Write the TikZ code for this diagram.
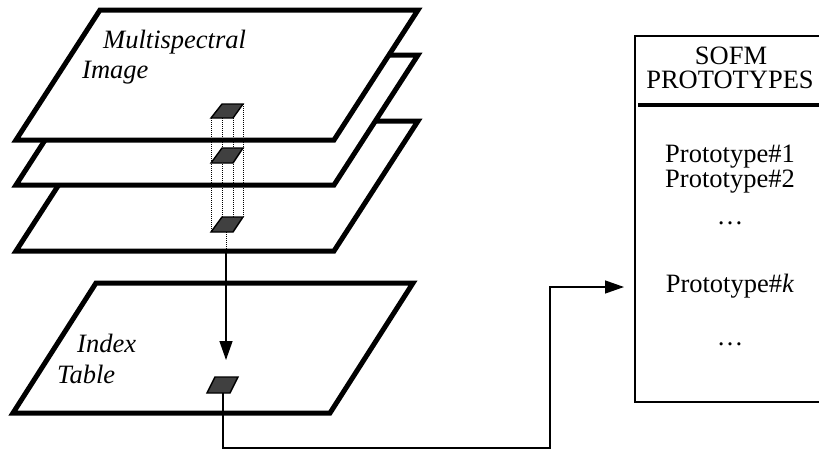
\documentclass[tikz,border=0pt]{standalone}
\usepackage{fontspec}
\setmainfont{Liberation Serif}
\usetikzlibrary{arrows.meta}
\begin{document}
\begin{tikzpicture}[x=1pt,y=-1pt,
  plane/.style={draw=black,fill=white,line width=5pt},
  cell/.style={draw=black,fill=black!75,line width=1.4pt},
  guide/.style={line width=0.8pt,dash pattern=on 1pt off 1pt},
  conn/.style={line width=1.3pt},
  bigtip/.style={-{Triangle[length=19pt,width=13pt]}},
  lbl/.style={font=\fontsize{26.5}{30}\selectfont\itshape,inner sep=0pt},
  boxtxt/.style={font=\fontsize{26.5}{30}\selectfont,inner sep=0pt}]
\clip (0,0) rectangle (819,450);
\useasboundingbox (0,0) rectangle (819,450);
% image planes (back to front)
\draw[plane] (100,121) -- (418,121) -- (334,251) -- (16,251) -- cycle;
\draw[plane] (100,55) -- (418,55) -- (334,185) -- (16,185) -- cycle;
\draw[plane] (100,10) -- (418,10) -- (334,140) -- (16,140) -- cycle;
\node[lbl,anchor=base west] (ms) at (103,48) {Multispectral};
\node[lbl,anchor=base west] (img) at (82,78) {Image};
% index table plane
\draw[plane] (96,283) -- (413,283) -- (330,413) -- (13,413) -- cycle;
\node[lbl,anchor=base west] (idx) at (77,352) {Index};
\node[lbl,anchor=base west] (tab) at (57,383) {Table};
% dotted pixel column
\draw[guide] (211,118) -- (211,232);
\draw[guide] (222,104) -- (222,217);
\draw[guide] (233,118) -- (233,232);
\draw[guide] (243,104) -- (243,217);
% pixel cells
\draw[cell] (222,104) -- (243,104) -- (233,118) -- (211,118) -- cycle;
\draw[cell] (222,148) -- (243,148) -- (233,163) -- (211,163) -- cycle;
\draw[cell] (222,217) -- (243,217) -- (233,232) -- (211,232) -- cycle;
\draw[cell] (215,377) -- (238,377) -- (230,393) -- (207,393) -- cycle;
\coordinate (sq3) at (226,232);
\coordinate (mid) at (226,251);
\coordinate (idxsq) at (226,377);
\coordinate (idxbot) at (223,393);
% SOFM box
\node[draw=black,line width=2pt,minimum width=192pt,minimum height=366pt,anchor=north west,inner sep=0pt] (box) at (634,35) {};
\draw[line width=3.5pt] (638,105) -- (828,105);
\node[boxtxt,anchor=base] (t1) at (731,64) {SOFM};
\node[boxtxt,anchor=base] (t2) at (730,88) {PROTOTYPES};
\node[boxtxt,anchor=base] (p1) at (730,162) {Prototype\#1};
\node[boxtxt,anchor=base] (p2) at (730,187) {Prototype\#2};
\node[boxtxt,anchor=base] (d1) at (730,224) {…};
\node[boxtxt,anchor=base] (pk) at (730,292) {Prototype\#\textit{k}};
\node[boxtxt,anchor=base] (d2) at (730,345) {…};
% connectors
\draw[guide] (sq3) -- (mid);
\draw[conn,bigtip,shorten >=17pt] (mid) -- (idxsq);
\coordinate (c1) at (550,448);
\coordinate (c2) at (600,287);
\draw[conn,bigtip,shorten >=10pt] (idxbot) |- (c1) |- (box.west |- c2);
\end{tikzpicture}
\end{document}
